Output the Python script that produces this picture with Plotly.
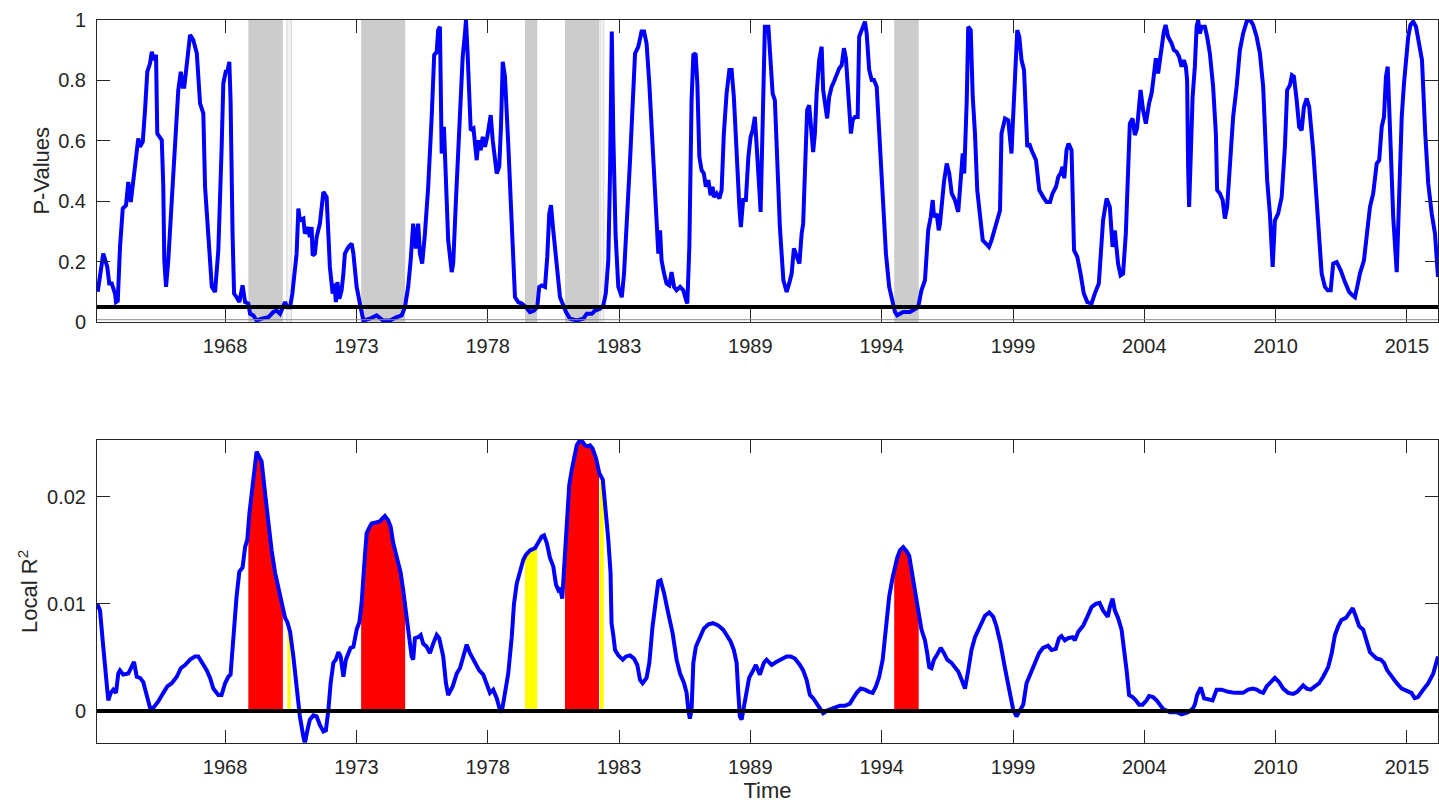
import numpy as np
import plotly.graph_objects as go

# ---------------- data ----------------
p_years = [1963.01, 1963.23, 1963.39, 1963.47, 1963.57, 1963.70, 1963.74, 1963.81, 1963.90, 1964.01,
           1964.14, 1964.23, 1964.33, 1964.43, 1964.57, 1964.63, 1964.70, 1964.81, 1964.90, 1964.99,
           1965.10, 1965.17, 1965.26, 1965.34, 1965.39, 1965.50, 1965.57, 1965.63, 1965.67, 1965.74,
           1965.83, 1965.97, 1966.10, 1966.23, 1966.33, 1966.41, 1966.47, 1966.57, 1966.70, 1966.83,
           1966.97, 1967.10, 1967.23, 1967.30, 1967.43, 1967.57, 1967.70, 1967.83, 1967.96, 1968.03,
           1968.14, 1968.19, 1968.27, 1968.32, 1968.40, 1968.46, 1968.56, 1968.67, 1968.80, 1968.90,
           1969.03, 1969.10, 1969.23, 1969.36, 1969.56, 1969.83, 1970.03, 1970.16, 1970.30, 1970.43,
           1970.50, 1970.59, 1970.70, 1970.79, 1970.90, 1970.96, 1971.03, 1971.09, 1971.23, 1971.29,
           1971.39, 1971.49, 1971.56, 1971.60, 1971.69, 1971.76, 1971.89, 1972.03, 1972.16, 1972.23,
           1972.29, 1972.40, 1972.47, 1972.53, 1972.59, 1972.67, 1972.76, 1972.83, 1972.89, 1973.03,
           1973.16, 1973.23, 1973.36, 1973.49, 1973.56, 1973.63, 1973.89, 1974.16, 1974.42, 1974.69,
           1974.96, 1975.16, 1975.29, 1975.42, 1975.52, 1975.62, 1975.73, 1975.82, 1975.89, 1975.98,
           1976.09, 1976.22, 1976.36, 1976.46, 1976.56, 1976.62, 1976.69, 1976.73, 1976.76, 1976.85,
           1976.89, 1977.02, 1977.16, 1977.22, 1977.33, 1977.42, 1977.52, 1977.60, 1977.69, 1977.73,
           1977.79, 1977.87, 1977.92, 1978.03, 1978.09, 1978.16, 1978.23, 1978.32, 1978.40, 1978.49,
           1978.58, 1978.66, 1978.72, 1978.80, 1978.89, 1978.96, 1979.06, 1979.13, 1979.20, 1979.29,
           1979.42, 1979.56, 1979.69, 1979.82, 1979.96, 1980.09, 1980.18, 1980.29, 1980.45, 1980.58,
           1980.66, 1980.76, 1980.89, 1980.98, 1981.06, 1981.13, 1981.22, 1981.36, 1981.49, 1981.62,
           1981.73, 1981.89, 1982.16, 1982.42, 1982.56, 1982.76, 1982.89, 1983.09, 1983.22, 1983.32,
           1983.42, 1983.49, 1983.56, 1983.62, 1983.71, 1983.82, 1983.96, 1984.05, 1984.15, 1984.29,
           1984.39, 1984.49, 1984.62, 1984.75, 1984.85, 1984.95, 1985.06, 1985.19, 1985.33, 1985.42,
           1985.49, 1985.55, 1985.65, 1985.75, 1985.86, 1985.95, 1986.05, 1986.15, 1986.29, 1986.42,
           1986.53, 1986.58, 1986.66, 1986.75, 1986.82, 1986.91, 1986.98, 1987.06, 1987.15, 1987.24,
           1987.32, 1987.42, 1987.51, 1987.59, 1987.64, 1987.75, 1987.86, 1987.95, 1988.04, 1988.15,
           1988.26, 1988.35, 1988.44, 1988.55, 1988.66, 1988.72, 1988.81, 1988.92, 1989.02, 1989.11,
           1989.19, 1989.28, 1989.38, 1989.46, 1989.51, 1989.59, 1989.68, 1989.82, 1989.88, 1989.99,
           1990.08, 1990.18, 1990.28, 1990.42, 1990.55, 1990.66, 1990.75, 1990.84, 1990.97, 1991.06,
           1991.15, 1991.21, 1991.28, 1991.37, 1991.45, 1991.55, 1991.61, 1991.68, 1991.75, 1991.85,
           1991.95, 1992.01, 1992.12, 1992.17, 1992.25, 1992.35, 1992.44, 1992.55, 1992.65, 1992.75,
           1992.84, 1992.92, 1993.01, 1993.12, 1993.19, 1993.28, 1993.39, 1993.45, 1993.55, 1993.61,
           1993.68, 1993.75, 1993.85, 1993.95, 1994.04, 1994.15, 1994.25, 1994.39, 1994.52, 1994.65,
           1994.79, 1994.88, 1994.97, 1995.21, 1995.48, 1995.68, 1995.81, 1995.94, 1996.08, 1996.21,
           1996.31, 1996.39, 1996.44, 1996.55, 1996.63, 1996.68, 1996.79, 1996.84, 1996.95, 1997.05,
           1997.15, 1997.28, 1997.41, 1997.48, 1997.59, 1997.65, 1997.75, 1997.81, 1997.91, 1997.99,
           1998.08, 1998.17, 1998.28, 1998.39, 1998.52, 1998.64, 1998.74, 1998.84, 1998.94, 1999.08,
           1999.14, 1999.28, 1999.41, 1999.54, 1999.58, 1999.68, 1999.77, 1999.85, 1999.94, 2000.04,
           2000.12, 2000.17, 2000.25, 2000.34, 2000.52, 2000.65, 2000.81, 2000.94, 2001.08, 2001.18,
           2001.32, 2001.41, 2001.50, 2001.58, 2001.65, 2001.74, 2001.82, 2001.94, 2002.04, 2002.17,
           2002.30, 2002.43, 2002.57, 2002.74, 2002.87, 2003.03, 2003.20, 2003.34, 2003.47, 2003.58,
           2003.67, 2003.80, 2003.90, 2004.00, 2004.11, 2004.20, 2004.27, 2004.38, 2004.47, 2004.56,
           2004.70, 2004.80, 2004.91, 2005.04, 2005.14, 2005.20, 2005.31, 2005.40, 2005.47, 2005.54,
           2005.63, 2005.70, 2005.80, 2005.94, 2006.03, 2006.14, 2006.24, 2006.34, 2006.43, 2006.51,
           2006.56, 2006.60, 2006.64, 2006.70, 2006.78, 2006.87, 2006.94, 2007.00, 2007.07, 2007.14,
           2007.27, 2007.36, 2007.47, 2007.60, 2007.71, 2007.76, 2007.87, 2007.98, 2008.07, 2008.16,
           2008.27, 2008.40, 2008.54, 2008.67, 2008.80, 2008.94, 2009.07, 2009.20, 2009.34, 2009.47,
           2009.60, 2009.71, 2009.76, 2009.87, 2009.98, 2010.07, 2010.20, 2010.34, 2010.47, 2010.56,
           2010.67, 2010.75, 2010.83, 2010.94, 2011.04, 2011.14, 2011.23, 2011.34, 2011.44, 2011.60,
           2011.76, 2011.94, 2012.07, 2012.18, 2012.30, 2012.40, 2012.54, 2012.70, 2012.87, 2013.04,
           2013.18, 2013.27, 2013.36, 2013.47, 2013.63, 2013.74, 2013.87, 2014.00, 2014.14, 2014.24,
           2014.34, 2014.43, 2014.51, 2014.58, 2014.64, 2014.74, 2014.80, 2014.94, 2015.04, 2015.14,
           2015.23, 2015.31, 2015.40, 2015.49, 2015.60, 2015.71, 2015.82, 2015.95, 2016.08, 2016.20,
           2016.34, 2016.47, 2016.59]
p_values = [0.100, 0.226, 0.182, 0.127, 0.127, 0.094, 0.066, 0.070, 0.248, 0.375,
            0.386, 0.463, 0.397, 0.469, 0.546, 0.607, 0.579, 0.596, 0.700, 0.827,
            0.855, 0.893, 0.866, 0.883, 0.623, 0.612, 0.601, 0.447, 0.204, 0.116,
            0.204, 0.403, 0.601, 0.767, 0.827, 0.778, 0.778, 0.855, 0.949, 0.932,
            0.888, 0.723, 0.690, 0.447, 0.292, 0.116, 0.099, 0.237, 0.568, 0.789,
            0.833, 0.827, 0.860, 0.733, 0.292, 0.094, 0.082, 0.066, 0.121, 0.066,
            0.061, 0.027, 0.022, 0.005, 0.011, 0.016, 0.033, 0.038, 0.027, 0.055,
            0.066, 0.049, 0.049, 0.094, 0.204, 0.226, 0.375, 0.336, 0.342, 0.292,
            0.314, 0.281, 0.314, 0.220, 0.226, 0.281, 0.325, 0.430, 0.413, 0.314,
            0.182, 0.094, 0.127, 0.066, 0.132, 0.077, 0.105, 0.160, 0.226, 0.248,
            0.259, 0.226, 0.116, 0.061, 0.027, 0.005, 0.011, 0.022, 0.005, 0.005,
            0.016, 0.022, 0.049, 0.116, 0.204, 0.325, 0.243, 0.325, 0.226, 0.193,
            0.292, 0.447, 0.678, 0.883, 0.893, 0.965, 0.976, 0.800, 0.557, 0.645,
            0.557, 0.270, 0.165, 0.193, 0.403, 0.546, 0.733, 0.877, 0.954, 0.998,
            0.899, 0.767, 0.634, 0.640, 0.579, 0.535, 0.601, 0.568, 0.612, 0.579,
            0.612, 0.645, 0.684, 0.601, 0.524, 0.491, 0.513, 0.645, 0.860, 0.811,
            0.590, 0.292, 0.082, 0.066, 0.061, 0.052, 0.041, 0.033, 0.038, 0.049,
            0.116, 0.121, 0.116, 0.215, 0.358, 0.386, 0.303, 0.182, 0.082, 0.055,
            0.033, 0.011, 0.005, 0.011, 0.027, 0.027, 0.038, 0.044, 0.055, 0.094,
            0.204, 0.491, 0.960, 0.623, 0.292, 0.116, 0.082, 0.160, 0.347, 0.535,
            0.711, 0.888, 0.910, 0.960, 0.960, 0.921, 0.789, 0.568, 0.358, 0.226,
            0.303, 0.204, 0.160, 0.127, 0.121, 0.165, 0.116, 0.105, 0.116, 0.105,
            0.072, 0.061, 0.248, 0.733, 0.883, 0.888, 0.789, 0.546, 0.502, 0.491,
            0.447, 0.469, 0.419, 0.447, 0.413, 0.425, 0.408, 0.436, 0.623, 0.756,
            0.833, 0.833, 0.744, 0.546, 0.380, 0.314, 0.403, 0.403, 0.546, 0.612,
            0.634, 0.678, 0.568, 0.436, 0.364, 0.601, 0.976, 0.976, 0.910, 0.756,
            0.733, 0.513, 0.314, 0.138, 0.099, 0.130, 0.160, 0.243, 0.215, 0.193,
            0.292, 0.325, 0.491, 0.700, 0.717, 0.623, 0.562, 0.623, 0.756, 0.866,
            0.910, 0.767, 0.700, 0.673, 0.744, 0.778, 0.794, 0.822, 0.838, 0.849,
            0.905, 0.872, 0.778, 0.623, 0.667, 0.678, 0.678, 0.943, 0.965, 0.976,
            0.993, 0.954, 0.833, 0.800, 0.800, 0.778, 0.634, 0.403, 0.226, 0.116,
            0.072, 0.033, 0.022, 0.033, 0.033, 0.044, 0.049, 0.105, 0.138, 0.303,
            0.347, 0.403, 0.347, 0.358, 0.303, 0.325, 0.447, 0.463, 0.524, 0.491,
            0.425, 0.403, 0.364, 0.447, 0.557, 0.491, 0.733, 0.976, 0.965, 0.744,
            0.623, 0.436, 0.336, 0.270, 0.259, 0.248, 0.270, 0.303, 0.325, 0.369,
            0.623, 0.673, 0.667, 0.557, 0.634, 0.833, 0.965, 0.943, 0.866, 0.833,
            0.684, 0.579, 0.590, 0.568, 0.535, 0.436, 0.413, 0.397, 0.397, 0.425,
            0.447, 0.480, 0.491, 0.513, 0.475, 0.568, 0.590, 0.568, 0.237, 0.215,
            0.160, 0.094, 0.066, 0.061, 0.094, 0.127, 0.336, 0.408, 0.380, 0.248,
            0.303, 0.193, 0.154, 0.160, 0.292, 0.557, 0.656, 0.673, 0.618, 0.640,
            0.767, 0.700, 0.656, 0.723, 0.756, 0.794, 0.872, 0.822, 0.866, 0.921,
            0.960, 0.982, 0.943, 0.921, 0.899, 0.893, 0.877, 0.844, 0.866, 0.844,
            0.800, 0.513, 0.380, 0.535, 0.744, 0.844, 0.976, 0.998, 0.954, 0.976,
            0.976, 0.943, 0.888, 0.778, 0.623, 0.436, 0.425, 0.403, 0.342, 0.380,
            0.513, 0.678, 0.778, 0.899, 0.954, 0.993, 1.000, 0.982, 0.943, 0.888,
            0.778, 0.601, 0.469, 0.358, 0.182, 0.336, 0.358, 0.413, 0.579, 0.767,
            0.783, 0.816, 0.811, 0.733, 0.645, 0.634, 0.711, 0.739, 0.711, 0.568,
            0.380, 0.160, 0.116, 0.105, 0.105, 0.193, 0.198, 0.171, 0.132, 0.099,
            0.088, 0.082, 0.116, 0.160, 0.204, 0.292, 0.380, 0.425, 0.524, 0.535,
            0.645, 0.678, 0.811, 0.844, 0.684, 0.502, 0.347, 0.165, 0.425, 0.678,
            0.789, 0.872, 0.943, 0.982, 0.993, 0.976, 0.921, 0.866, 0.623, 0.458,
            0.358, 0.292, 0.149]

r2_years = [1962.99, 1963.10, 1963.23, 1963.37, 1963.43, 1963.53, 1963.63, 1963.74, 1963.83, 1963.90,
            1964.03, 1964.23, 1964.37, 1964.46, 1964.57, 1964.70, 1964.83, 1964.97, 1965.10, 1965.23,
            1965.43, 1965.63, 1965.79, 1965.97, 1966.17, 1966.33, 1966.50, 1966.70, 1966.90, 1967.03,
            1967.17, 1967.37, 1967.50, 1967.63, 1967.83, 1967.96, 1968.10, 1968.23, 1968.32, 1968.40,
            1968.47, 1968.56, 1968.67, 1968.80, 1968.90, 1968.99, 1969.07, 1969.16, 1969.23, 1969.30,
            1969.36, 1969.47, 1969.56, 1969.70, 1969.83, 1969.96, 1970.10, 1970.23, 1970.36, 1970.50,
            1970.59, 1970.70, 1970.83, 1970.96, 1971.09, 1971.23, 1971.29, 1971.39, 1971.49, 1971.63,
            1971.76, 1971.89, 1972.03, 1972.13, 1972.23, 1972.32, 1972.43, 1972.53, 1972.63, 1972.72,
            1972.83, 1972.93, 1973.03, 1973.12, 1973.23, 1973.36, 1973.47, 1973.56, 1973.65, 1973.76,
            1973.86, 1973.96, 1974.13, 1974.29, 1974.40, 1974.49, 1974.62, 1974.72, 1974.82, 1974.96,
            1975.12, 1975.22, 1975.36, 1975.46, 1975.56, 1975.62, 1975.69, 1975.82, 1975.92, 1976.02,
            1976.16, 1976.29, 1976.42, 1976.56, 1976.66, 1976.82, 1976.93, 1977.02, 1977.20, 1977.36,
            1977.49, 1977.62, 1977.76, 1977.89, 1978.09, 1978.26, 1978.42, 1978.56, 1978.69, 1978.82,
            1978.96, 1979.09, 1979.16, 1979.29, 1979.42, 1979.56, 1979.65, 1979.76, 1979.82, 1979.92,
            1980.02, 1980.13, 1980.29, 1980.49, 1980.62, 1980.76, 1980.85, 1980.96, 1981.09, 1981.22,
            1981.33, 1981.42, 1981.49, 1981.58, 1981.65, 1981.76, 1981.86, 1981.96, 1982.05, 1982.16,
            1982.29, 1982.40, 1982.49, 1982.58, 1982.69, 1982.79, 1982.93, 1983.06, 1983.20, 1983.29,
            1983.42, 1983.51, 1983.55, 1983.62, 1983.69, 1983.82, 1984.00, 1984.13, 1984.29, 1984.45,
            1984.58, 1984.69, 1984.79, 1984.95, 1985.06, 1985.19, 1985.33, 1985.42, 1985.51, 1985.65,
            1985.82, 1985.99, 1986.15, 1986.29, 1986.45, 1986.55, 1986.62, 1986.68, 1986.75, 1986.82,
            1986.92, 1987.08, 1987.24, 1987.42, 1987.61, 1987.81, 1988.01, 1988.15, 1988.31, 1988.44,
            1988.55, 1988.61, 1988.68, 1988.75, 1988.81, 1988.92, 1989.05, 1989.21, 1989.32, 1989.48,
            1989.64, 1989.75, 1989.95, 1990.15, 1990.35, 1990.55, 1990.71, 1990.88, 1991.08, 1991.21,
            1991.35, 1991.48, 1991.61, 1991.75, 1991.88, 1992.01, 1992.21, 1992.41, 1992.68, 1992.88,
            1993.08, 1993.21, 1993.35, 1993.51, 1993.68, 1993.85, 1993.99, 1994.12, 1994.25, 1994.39,
            1994.52, 1994.65, 1994.79, 1994.88, 1994.97, 1995.08, 1995.21, 1995.35, 1995.45, 1995.59,
            1995.68, 1995.81, 1995.94, 1996.08, 1996.17, 1996.25, 1996.34, 1996.44, 1996.55, 1996.71,
            1996.84, 1996.97, 1997.14, 1997.28, 1997.41, 1997.55, 1997.68, 1997.81, 1997.94, 1998.08,
            1998.21, 1998.34, 1998.48, 1998.65, 1998.81, 1998.94, 1999.10, 1999.27, 1999.45, 1999.61,
            1999.74, 1999.87, 2000.01, 2000.14, 2000.30, 2000.47, 2000.64, 2000.80, 2001.00, 2001.14,
            2001.31, 2001.44, 2001.54, 2001.67, 2001.80, 2001.98, 2002.07, 2002.21, 2002.41, 2002.57,
            2002.74, 2002.91, 2003.06, 2003.20, 2003.39, 2003.47, 2003.58, 2003.67, 2003.80, 2003.94,
            2004.03, 2004.14, 2004.24, 2004.38, 2004.51, 2004.64, 2004.78, 2004.94, 2005.04, 2005.20,
            2005.34, 2005.47, 2005.60, 2005.87, 2006.14, 2006.34, 2006.47, 2006.60, 2006.78, 2006.87,
            2006.96, 2007.11, 2007.24, 2007.40, 2007.58, 2007.74, 2007.94, 2008.20, 2008.47, 2008.80,
            2009.00, 2009.18, 2009.34, 2009.47, 2009.60, 2009.74, 2009.90, 2010.07, 2010.24, 2010.40,
            2010.60, 2010.80, 2010.96, 2011.07, 2011.20, 2011.34, 2011.50, 2011.67, 2011.84, 2012.00,
            2012.20, 2012.34, 2012.47, 2012.60, 2012.73, 2012.91, 2013.04, 2013.18, 2013.31, 2013.44,
            2013.60, 2013.74, 2013.87, 2014.00, 2014.14, 2014.30, 2014.43, 2014.56, 2014.74, 2014.94,
            2015.14, 2015.33, 2015.53, 2015.66, 2015.79, 2016.00, 2016.20, 2016.40, 2016.53, 2016.59]
r2_values = [0.0100, 0.0094, 0.0060, 0.0020, 0.0010, 0.0017, 0.0020, 0.0017, 0.0035, 0.0038,
             0.0034, 0.0035, 0.0043, 0.0046, 0.0032, 0.0031, 0.0027, 0.0013, 0.0003, 0.0003,
             0.0009, 0.0017, 0.0023, 0.0026, 0.0032, 0.0040, 0.0043, 0.0048, 0.0051, 0.0051,
             0.0046, 0.0038, 0.0031, 0.0021, 0.0015, 0.0015, 0.0026, 0.0032, 0.0034, 0.0060,
             0.0082, 0.0107, 0.0130, 0.0134, 0.0153, 0.0160, 0.0184, 0.0203, 0.0212, 0.0228,
             0.0242, 0.0237, 0.0233, 0.0203, 0.0175, 0.0150, 0.0129, 0.0116, 0.0101, 0.0087,
             0.0083, 0.0074, 0.0051, 0.0023, -0.0005, -0.0024, -0.0030, -0.0018, -0.0008, -0.0004,
             -0.0005, -0.0013, -0.0019, -0.0018, 0.0001, 0.0026, 0.0045, 0.0048, 0.0055, 0.0051,
             0.0032, 0.0048, 0.0054, 0.0059, 0.0060, 0.0076, 0.0083, 0.0101, 0.0132, 0.0166,
             0.0171, 0.0175, 0.0176, 0.0177, 0.0180, 0.0182, 0.0178, 0.0172, 0.0157, 0.0143,
             0.0129, 0.0113, 0.0091, 0.0069, 0.0051, 0.0048, 0.0068, 0.0069, 0.0071, 0.0063,
             0.0060, 0.0054, 0.0063, 0.0071, 0.0068, 0.0051, 0.0026, 0.0015, 0.0023, 0.0035,
             0.0040, 0.0051, 0.0062, 0.0054, 0.0045, 0.0038, 0.0034, 0.0026, 0.0017, 0.0020,
             0.0012, 0.0001, -0.0001, 0.0017, 0.0035, 0.0069, 0.0100, 0.0119, 0.0125, 0.0132,
             0.0141, 0.0146, 0.0150, 0.0152, 0.0157, 0.0163, 0.0164, 0.0157, 0.0143, 0.0135,
             0.0118, 0.0113, 0.0115, 0.0105, 0.0132, 0.0178, 0.0211, 0.0225, 0.0237, 0.0248,
             0.0253, 0.0251, 0.0248, 0.0247, 0.0248, 0.0245, 0.0236, 0.0222, 0.0216, 0.0194,
             0.0160, 0.0129, 0.0082, 0.0071, 0.0057, 0.0052, 0.0048, 0.0051, 0.0052, 0.0049,
             0.0043, 0.0029, 0.0026, 0.0031, 0.0045, 0.0079, 0.0107, 0.0121, 0.0122, 0.0110,
             0.0091, 0.0073, 0.0048, 0.0035, 0.0026, 0.0017, 0.0001, -0.0007, 0.0001, 0.0045,
             0.0060, 0.0069, 0.0077, 0.0081, 0.0082, 0.0080, 0.0076, 0.0071, 0.0065, 0.0057,
             0.0045, 0.0020, -0.0005, -0.0008, 0.0001, 0.0017, 0.0031, 0.0038, 0.0043, 0.0034,
             0.0045, 0.0048, 0.0043, 0.0046, 0.0049, 0.0051, 0.0051, 0.0049, 0.0043, 0.0038,
             0.0029, 0.0015, 0.0012, 0.0007, 0.0003, -0.0002, 0.0001, 0.0003, 0.0005, 0.0005,
             0.0007, 0.0012, 0.0017, 0.0021, 0.0020, 0.0018, 0.0017, 0.0023, 0.0032, 0.0048,
             0.0076, 0.0107, 0.0125, 0.0136, 0.0143, 0.0150, 0.0153, 0.0149, 0.0145, 0.0125,
             0.0110, 0.0094, 0.0076, 0.0066, 0.0054, 0.0041, 0.0040, 0.0048, 0.0052, 0.0059,
             0.0054, 0.0048, 0.0045, 0.0040, 0.0037, 0.0029, 0.0021, 0.0038, 0.0057, 0.0069,
             0.0076, 0.0082, 0.0089, 0.0092, 0.0088, 0.0079, 0.0063, 0.0041, 0.0017, 0.0001,
             -0.0005, 0.0001, 0.0006, 0.0026, 0.0035, 0.0045, 0.0054, 0.0059, 0.0061, 0.0057,
             0.0058, 0.0068, 0.0070, 0.0066, 0.0068, 0.0069, 0.0066, 0.0074, 0.0080, 0.0088,
             0.0097, 0.0100, 0.0101, 0.0094, 0.0088, 0.0097, 0.0105, 0.0094, 0.0087, 0.0076,
             0.0060, 0.0038, 0.0015, 0.0013, 0.0010, 0.0006, 0.0006, 0.0010, 0.0014, 0.0013,
             0.0010, 0.0006, 0.0002, -0.0001, -0.0001, -0.0003, -0.0002, -0.0001, 0.0002, 0.0006,
             0.0015, 0.0022, 0.0012, 0.0011, 0.0010, 0.0020, 0.0020, 0.0018, 0.0017, 0.0017,
             0.0020, 0.0021, 0.0020, 0.0018, 0.0017, 0.0023, 0.0027, 0.0031, 0.0027, 0.0021,
             0.0017, 0.0016, 0.0018, 0.0021, 0.0024, 0.0021, 0.0020, 0.0023, 0.0026, 0.0032,
             0.0041, 0.0054, 0.0071, 0.0079, 0.0085, 0.0087, 0.0091, 0.0096, 0.0088, 0.0079,
             0.0076, 0.0066, 0.0055, 0.0052, 0.0049, 0.0048, 0.0045, 0.0038, 0.0032, 0.0026,
             0.0021, 0.0019, 0.0017, 0.0012, 0.0013, 0.0020, 0.0026, 0.0035, 0.0045, 0.0051]

tick_positions = [1968.10, 1973.35, 1978.60, 1983.85, 1989.10, 1994.35, 1999.60, 2004.85, 2010.10, 2015.35]
tick_labels = ["1968", "1973", "1978", "1983", "1989", "1994", "1999", "2004", "2010", "2015"]

# significant periods (gray in top, red in bottom) and borderline periods (yellow)
red_periods = [(1969.03, 1970.41), (1973.54, 1975.30), (1981.69, 1983.05), (1994.85, 1995.83)]
yellow_periods = [(1970.59, 1970.72), (1980.09, 1980.58), (1983.09, 1983.24)]
gray_periods = [(1969.03, 1970.41), (1973.54, 1975.30), (1980.09, 1980.58), (1981.69, 1983.05), (1994.85, 1995.83)]
light_periods = [(1970.57, 1970.75), (1983.09, 1983.24)]

threshold = 0.05
x_range = [1962.98, 2016.59]
p_range = [0, 1]
r2_range = [-0.00295, 0.0253]

# ---------------- figure ----------------
FONT = "Liberation Sans, Arial, Helvetica, sans-serif"
TXT = "#262626"
BLUE = "#0000FF"

fig = go.Figure()

# filled areas under the local R^2 curve
rx = np.array(r2_years)
ry = np.array(r2_values)
for periods, color in ((red_periods, "#FF0000"), (yellow_periods, "#FFFF00")):
    for a, b in periods:
        m = (rx > a) & (rx < b)
        xs = np.concatenate([[a], rx[m], [b]])
        ys = np.concatenate([[np.interp(a, rx, ry)], ry[m], [np.interp(b, rx, ry)]])
        fig.add_trace(go.Scatter(x=xs, y=ys, mode="none", fill="tozeroy", fillcolor=color,
                                 xaxis="x2", yaxis="y2", hoverinfo="skip"))

fig.add_trace(go.Scatter(x=p_years, y=p_values, mode="lines",
                         line=dict(color=BLUE, width=4), xaxis="x", yaxis="y"))
fig.add_trace(go.Scatter(x=r2_years, y=r2_values, mode="lines",
                         line=dict(color=BLUE, width=4), xaxis="x2", yaxis="y2"))

shapes = []
for a, b in gray_periods:
    shapes.append(dict(type="rect", xref="x", yref="y domain", x0=a, x1=b, y0=0, y1=1,
                       fillcolor="#CCCCCC", line=dict(width=0), layer="below"))
for a, b in light_periods:
    shapes.append(dict(type="rect", xref="x", yref="y domain", x0=a, x1=b, y0=0, y1=1,
                       fillcolor="#F2F2F2", line=dict(width=1, color="#D6D6D6"), layer="below"))
shapes.append(dict(type="line", xref="x domain", yref="y", x0=0, x1=1, y0=0.0076, y1=0.0076,
                   line=dict(color="#8C8C8C", width=1)))
shapes.append(dict(type="line", xref="x domain", yref="y", x0=0, x1=1, y0=threshold, y1=threshold,
                   line=dict(color="black", width=4)))
shapes.append(dict(type="line", xref="x2 domain", yref="y2", x0=0, x1=1, y0=0, y1=0,
                   line=dict(color="black", width=4)))

axis_common = dict(showline=True, linecolor=TXT, linewidth=1, mirror="allticks",
                   ticks="inside", ticklen=13, tickwidth=1, tickcolor=TXT,
                   showgrid=False, zeroline=False, automargin=False,
                   tickfont=dict(family=FONT, size=20, color=TXT))

fig.update_layout(
    width=1439, height=803,
    margin=dict(l=97, r=1, t=0, b=0, autoexpand=False),
    plot_bgcolor="white", paper_bgcolor="white",
    showlegend=False,
    shapes=shapes,
    xaxis=dict(domain=[0, 1], range=x_range, anchor="y",
               tickmode="array", tickvals=tick_positions, ticktext=tick_labels,
               ticklabelstandoff=6, **axis_common),
    yaxis=dict(domain=[0.599, 0.9757], range=p_range, anchor="x",
               tickmode="array", tickvals=[0, 0.2, 0.4, 0.6, 0.8, 1],
               ticktext=["0", "0.2", "0.4", "0.6", "0.8", "1"],
               ticklabelstandoff=6,
               title=dict(text="P-Values", font=dict(family=FONT, size=22, color=TXT), standoff=2),
               **axis_common),
    xaxis2=dict(domain=[0, 1], range=x_range, anchor="y2",
                tickmode="array", tickvals=tick_positions, ticktext=tick_labels,
                ticklabelstandoff=6,
                title=dict(text="Time", font=dict(family=FONT, size=22, color=TXT), standoff=2),
                **axis_common),
    yaxis2=dict(domain=[0.0751, 0.4521], range=r2_range, anchor="x2",
                tickmode="array", tickvals=[0, 0.01, 0.02],
                ticktext=["0", "0.01", "0.02"],
                ticklabelstandoff=6,
                title=dict(text="Local R<sup>2</sup>", font=dict(family=FONT, size=22, color=TXT), standoff=3),
                **axis_common),
)

fig.write_html("out.html")
